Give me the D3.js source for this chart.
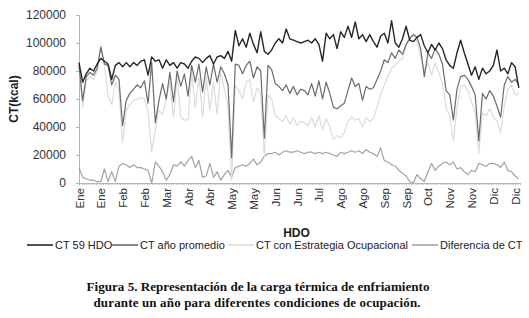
<!DOCTYPE html>
<html lang="es">
<head>
  <meta charset="UTF-8">
  <title>Carga térmica de enfriamiento</title>
  <style>
    body { margin: 0; background: #fff; overflow: hidden; }
    svg { display: block; font-family: "Liberation Sans", Arial, sans-serif; }
    .axis path, .axis line { stroke: #b4b4b4; }
    .axis text { fill: #333; }
    .caption { font-family: "Liberation Serif", "Times New Roman", serif; font-weight: bold; font-size: 13px; fill: #111; }
  </style>
</head>
<body>
  <script src="https://cdn.jsdelivr.net/npm/d3@7/dist/d3.min.js"></script>
  <script>
    // valores en miles de kcal, una lectura cada 3 días (día 0 = 1 de enero)
    const dayStep = 3;

    const ct59 = [
      86, 72, 78, 82, 80, 85, 89, 87, 85, 74,
      84, 86, 83, 86, 83, 86, 84, 87, 88, 77,
      90, 87, 88, 82, 88, 84, 86, 82, 86, 85,
      82, 87, 90, 89, 86, 89, 91, 85, 90, 91,
      89, 94, 87, 109, 98, 103, 97, 107, 99, 93,
      108, 94, 92, 95, 100, 103, 100, 110, 103, 102,
      101, 100, 101, 102, 100, 103, 99, 87, 107, 103,
      106, 96, 108, 104, 112, 104, 115, 103, 106, 101,
      106, 101, 97, 105, 107, 100, 116, 100, 97, 103,
      112, 102, 101, 104, 106, 98, 93, 99, 95, 100,
      96, 88, 84, 82, 93, 102, 93, 85, 77, 83,
      74, 82, 78, 80, 84, 95, 80, 82, 78, 86,
      83, 68
    ];

    const ctPromedio = [
      84, 59, 76, 79, 77, 82, 97, 85, 84, 70,
      77, 74, 41, 59, 64, 67, 70, 68, 73, 57,
      86, 43, 59, 71, 60, 79, 58, 80, 69, 78,
      62, 84, 72, 85, 65, 83, 70, 85, 72, 83,
      78, 70, 18, 85, 84, 78, 84, 87, 75, 83,
      80, 32, 84, 81, 71, 69, 66, 70, 64, 69,
      63, 67, 66, 63, 71, 62, 73, 60, 72, 64,
      54, 53, 55, 57, 66, 75, 69, 71, 59, 69,
      67, 68, 74, 80, 88, 86, 93, 89, 95, 92,
      99, 103, 106, 104, 96, 76, 93, 89, 96, 92,
      85, 66, 63, 45, 67, 76, 77, 74, 69, 63,
      30, 64, 60, 66, 62, 55, 47, 70, 76, 72,
      74, 70
    ];

    const ctEstrategia = [
      84, 54, 73, 76, 74, 80, 98, 84, 62, 56,
      72, 66, 29, 52, 56, 59, 60, 61, 60, 51,
      22, 38, 52, 49, 60, 72, 47, 76, 47, 45,
      45, 79, 54, 76, 47, 76, 52, 72, 49, 79,
      67, 55, 2, 70, 66, 60, 72, 74, 58, 68,
      63, 19, 63, 60, 48, 46, 44, 48, 42, 47,
      41, 44, 43, 41, 47, 40, 48, 38, 46, 40,
      31, 34, 32, 36, 44, 47, 45, 46, 40, 47,
      44, 46, 54, 63, 70, 76, 82, 84, 87, 89,
      98, 104, 106, 101, 90, 80, 86, 77, 86, 79,
      71, 54, 48, 30, 54, 69, 70, 66, 58, 50,
      21, 50, 48, 53, 47, 44, 36, 55, 67, 70,
      63, 64
    ];

    const diferencia = [
      11, 4, 3, 2, 2, 1, 1, 10, 1, 8,
      1, 12, 14, 13, 11, 13, 11, 11, 10, 9,
      0, 15, 12, 8, 2, 6, 13, 12, 15, 12,
      16, 19, 11, 16, 4, 5, 14, 4, 8, 2,
      6, 9, 4, 11, 12, 13, 12, 14, 17, 13,
      15, 19, 21, 21, 22, 20, 22, 23, 22, 22,
      23, 22, 21, 22, 22, 21, 22, 21, 22, 21,
      20, 19, 22, 21, 22, 23, 22, 23, 21, 24,
      22, 21, 19, 25, 16, 15, 13, 12, 9, 7,
      5, 1, 0, 6, 3, 1, 8, 14, 9, 12,
      14, 15, 13, 15, 10, 11, 8, 6, 9, 8,
      14, 13, 12, 14, 14, 13, 11, 15, 9, 8,
      5, 3
    ];

    // etiquetas del eje x cada 18 días
    const tickDays = [0, 18, 36, 54, 72, 90, 108, 126, 144, 162, 180, 198, 216, 234, 252, 270, 288, 306, 324, 342, 360];
    const tickLabels = ["Ene", "Ene", "Feb", "Feb", "Mar", "Abr", "Abr", "May", "May", "Jun", "Jun",
                        "Jul", "Ago", "Ago", "Sep", "Sep", "Oct", "Nov", "Nov", "Dic", "Dic"];
    const yTicks = [0, 20, 40, 60, 80, 100, 120];

    const series = [
      {name: "CT 59 HDO", values: ct59, color: "#262626", width: 1.4},
      {name: "CT año promedio", values: ctPromedio, color: "#6b6b6b", width: 1.2},
      {name: "CT con Estrategia Ocupacional", values: ctEstrategia, color: "#dcdcdc", width: 1.2},
      {name: "Diferencia de CT", values: diferencia, color: "#a3a3a3", width: 1.2}
    ];

    const width = 529, height = 318;
    const margin = {left: 79, right: 9, top: 15, bottom: 135};

    const svg = d3.select("body").append("svg").attr("width", width).attr("height", height);

    const x = d3.scaleLinear().domain([0, 364]).range([margin.left, width - margin.right]);
    const y = d3.scaleLinear().domain([0, 120]).range([height - margin.bottom, margin.top]);

    // eje y
    svg.append("g").attr("class", "axis")
      .attr("transform", `translate(${margin.left},0)`)
      .call(d3.axisLeft(y).tickValues(yTicks).tickSize(3).tickPadding(10).tickFormat(d => d * 1000))
      .call(g => g.selectAll("text").attr("font-size", 12).attr("fill", "#333"));

    // marcas menores del eje x
    svg.append("g").attr("class", "axis")
      .attr("transform", `translate(0,${y(0)})`)
      .call(d3.axisBottom(x).tickValues(d3.range(0, 365, 2)).tickSize(2).tickFormat(""))
      .call(g => g.select(".domain").attr("stroke", "#b4b4b4"));

    // etiquetas del eje x
    svg.append("g").attr("class", "axis")
      .attr("transform", `translate(0,${y(0)})`)
      .call(d3.axisBottom(x).tickValues(tickDays).tickSize(0).tickFormat((d, i) => tickLabels[i]))
      .call(g => g.select(".domain").remove())
      .call(g => g.selectAll("text")
        .attr("font-size", 11.5)
        .attr("text-anchor", "end")
        .attr("transform", "rotate(-90)")
        .attr("x", -5)
        .attr("y", 0)
        .attr("dy", "0.35em"));

    const line = d3.line()
      .x((d, i) => x(i * dayStep))
      .y(d => y(d));

    // dibujar de atrás hacia adelante
    [series[3], series[2], series[1], series[0]].forEach(s => {
      svg.append("path")
        .datum(s.values)
        .attr("fill", "none")
        .attr("stroke", s.color)
        .attr("stroke-width", s.width)
        .attr("stroke-linejoin", "round")
        .attr("d", line);
    });

    // títulos de ejes
    svg.append("text")
      .attr("x", (x.range()[0] + x.range()[1]) / 2 - 3).attr("y", 237)
      .attr("text-anchor", "middle").attr("font-size", 12).attr("font-weight", "bold").attr("fill", "#222")
      .text("HDO");

    svg.append("text")
      .attr("transform", `translate(18,${(y(0) + y(120)) / 2}) rotate(-90)`)
      .attr("text-anchor", "middle").attr("font-size", 12).attr("font-weight", "bold").attr("fill", "#222")
      .text("CT(kcal)");

    // leyenda
    const legendX = [27, 112, 228, 412];
    const legend = svg.append("g").attr("transform", "translate(0,245)");
    series.forEach((s, i) => {
      const g = legend.append("g").attr("transform", `translate(${legendX[i]},0)`);
      g.append("line").attr("x1", 0).attr("x2", 26).attr("y1", 0).attr("y2", 0)
        .attr("stroke", s.color).attr("stroke-width", 1.6);
      g.append("text").attr("x", 28).attr("y", 0).attr("dy", "0.35em")
        .attr("font-size", 11).attr("fill", "#222").text(s.name);
    });

    // pie de figura
    svg.append("text").attr("class", "caption")
      .attr("x", 258).attr("y", 291).attr("text-anchor", "middle")
      .attr("textLength", 343).attr("lengthAdjust", "spacingAndGlyphs")
      .text("Figura 5. Representación de la carga térmica de enfriamiento");
    svg.append("text").attr("class", "caption")
      .attr("x", 257).attr("y", 307).attr("text-anchor", "middle")
      .attr("textLength", 327).attr("lengthAdjust", "spacing")
      .text("durante un año para diferentes condiciones de ocupación.");
  </script>
</body>
</html>
